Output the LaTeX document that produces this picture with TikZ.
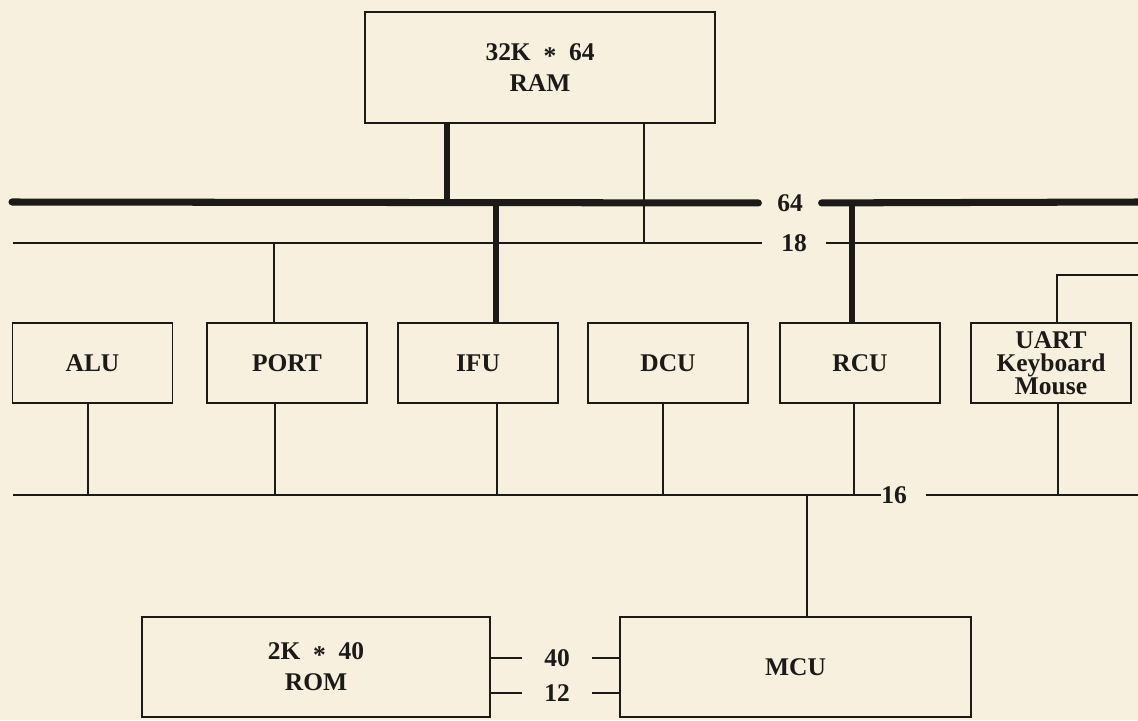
\documentclass[tikz,border=0pt]{standalone}
\usepackage{fontspec}
\setmainfont{Liberation Serif}
\usetikzlibrary{positioning}
\definecolor{paper}{HTML}{F7F0DE}
\definecolor{ink}{HTML}{1C1A17}
\newcommand{\memby}{\raisebox{-0.3ex}{*}}
\begin{document}
\begin{tikzpicture}[x=0.02cm,y=-0.02cm,
  unit/.style={draw=ink,line width=1.1pt,minimum width=3.2cm,minimum height=1.6cm,
    align=center,inner sep=0pt,text=ink,font=\fontsize{14.5}{13.2}\selectfont\bfseries},
  mem/.style={draw=ink,line width=1.1pt,minimum height=2cm,align=center,inner sep=0pt,
    text=ink,font=\fontsize{14.5}{17.5}\selectfont\bfseries},
  tag/.style={inner xsep=0.37cm,inner ysep=0pt,text=ink,
    font=\fontsize{14.5}{17}\selectfont\bfseries},
  wire/.style={ink,line width=1.1pt},
  drop/.style={ink,line width=3.4pt},
  bus/.style={ink,line width=4pt,line cap=round}]
  \fill[paper] (0,0) rectangle (1138,720);
  \useasboundingbox (0,0) rectangle (1138,720);
  \node[mem,minimum width=7cm,minimum height=2.22cm] (ram) at (540,67.5) {32K~~\memby~~64\\RAM};
  \node[unit] (alu)  at (92.5,363) {ALU};
  \node[unit] (port) at (287,363)  {PORT};
  \node[unit] (ifu)  at (478,363)  {IFU};
  \node[unit] (dcu)  at (668,363)  {DCU};
  \node[unit] (rcu)  at (860,363)  {RCU};
  \node[unit] (uart) at (1051,363) {UART\\Keyboard\\Mouse};
  \node[mem,minimum width=6.96cm] (rom) at (316,667)   {2K~~\memby~~40\\ROM};
  \node[mem,minimum width=7.02cm] (mcu) at (795.5,667) {MCU};
  \node[tag] (l64) at (790,203) {64};
  \node[tag] (l18) at (794,243) {18};
  \node[tag] (l16) at (894,495) {16};
  \node[tag,inner xsep=0.44cm] (l40) at (557,658) {40};
  \node[tag,inner xsep=0.44cm] (l12) at (557,693) {12};
  \coordinate (w64) at (12,202);
  \coordinate (e64) at (1138,202);
  \coordinate (w18) at (13,243);
  \coordinate (e18) at (1138,243);
  \coordinate (w16) at (13,495);
  \coordinate (e16) at (1138,495);
  \coordinate (ramA) at (447,202);
  \coordinate (ramB) at (644,243);
  \coordinate (ifuA) at (496,202);
  \coordinate (rcuA) at (852,202);
  \coordinate (portA) at (274,243);
  \coordinate (uartA) at (1057,275);
  \coordinate (uartE) at (1138,275);
  \coordinate (aluB) at (88,495);
  \coordinate (portB) at (275,495);
  \coordinate (ifuB) at (497,495);
  \coordinate (dcuB) at (663,495);
  \coordinate (rcuB) at (854,495);
  \coordinate (uartB) at (1058,495);
  \coordinate (mcuA) at (807,495);
  \draw[bus] (w64) -- (l64);
  \draw[bus] (l64) -- (e64);
  \draw[wire] (w18) -- (l18);
  \draw[wire] (l18) -- (e18);
  \draw[wire] (w16) -- (l16.text |- w16);
  \draw[wire] (l16) -- (e16);
  \draw[drop] (ram.south -| ramA) -- (ramA);
  \draw[wire] (ram.south -| ramB) -- (ramB);
  \draw[drop] (ifuA) -- (ifu.north -| ifuA);
  \draw[drop] (rcuA) -- (rcu.north -| rcuA);
  \draw[wire] (portA) -- (port.north -| portA);
  \draw[wire] (uart.north -| uartA) -- (uartA) -- (uartE);
  \draw[wire] (alu.south -| aluB) -- (aluB);
  \draw[wire] (port.south -| portB) -- (portB);
  \draw[wire] (ifu.south -| ifuB) -- (ifuB);
  \draw[wire] (dcu.south -| dcuB) -- (dcuB);
  \draw[wire] (rcu.south -| rcuB) -- (rcuB);
  \draw[wire] (uart.south -| uartB) -- (uartB);
  \draw[wire] (mcuA) -- (mcu.north -| mcuA);
  \draw[wire] (rom.east |- l40) -- (l40);
  \draw[wire] (l40) -- (mcu.west |- l40);
  \draw[wire] (rom.east |- l12) -- (l12);
  \draw[wire] (l12) -- (mcu.west |- l12);
\end{tikzpicture}
\end{document}
